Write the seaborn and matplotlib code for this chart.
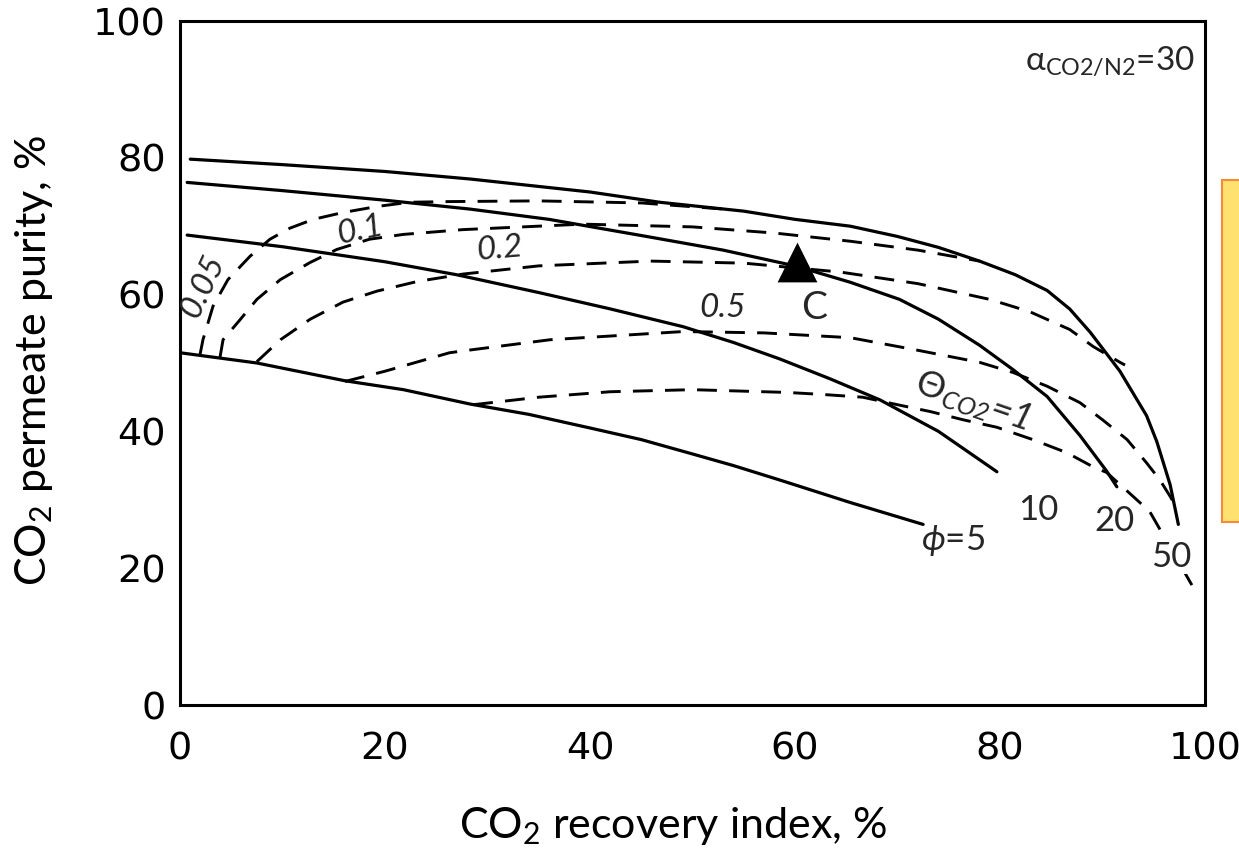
import matplotlib
matplotlib.use("Agg")
import matplotlib.pyplot as plt
import seaborn as sns
from matplotlib.patches import Rectangle

# ---------------- data ----------------
# solid curves: constant pressure ratio phi
phi5_x = [0, 7.5, 16.1, 21.8, 28.3, 34, 40, 45, 50, 54, 58.5, 65.4, 72.5]
phi5_y = [51.5, 50.0, 47.4, 46.1, 44.0, 42.5, 40.5, 38.8, 36.7, 35.0, 32.9, 29.6, 26.4]

phi10_x = [0.7, 10, 20, 27, 35, 42, 49.1, 54, 58.5, 63.4, 68.3, 74, 79.7]
phi10_y = [68.7, 67.0, 64.8, 62.9, 60.3, 57.9, 55.3, 53.0, 50.6, 47.7, 44.6, 40.0, 34.1]

phi20_x = [0.7, 10, 20, 28.3, 36, 45.9, 53, 60, 65.4, 70.2, 74, 78, 81.3, 84.6, 87.8, 90.4, 91.4]
phi20_y = [76.4, 75.2, 73.8, 72.5, 71.0, 68.4, 66.5, 64.2, 61.8, 59.3, 56.4, 52.6, 49.0, 45.1, 39.4, 34.2, 31.9]

phi50_x = [1, 10, 20, 28.3, 40, 46.8, 55, 60, 65.4, 70, 74, 78, 81.5, 84.6, 86.8, 88.8, 91.7, 94.3, 95.3, 96.6, 97.4]
phi50_y = [79.8, 79.0, 78.0, 76.9, 75.0, 73.5, 72.2, 71.0, 70.0, 68.5, 66.9, 64.9, 62.9, 60.6, 57.9, 54.5, 48.8, 42.3, 38.5, 32.2, 26.4]

# dashed curves: constant dimensionless area Theta
th005_x = [1.95, 2.24, 3.22, 4.68, 6.83, 8.78, 10.7, 13.0, 15.9, 19.3, 22.4, 26.3, 35, 45, 54]
th005_y = [51.2, 53.4, 58.3, 62.2, 65.6, 68.1, 69.7, 71.0, 72.0, 72.9, 73.5, 73.6, 73.7, 73.4, 72.4]

th01_x = [3.9, 4.2, 5.9, 7.5, 9.8, 12.7, 15.3, 18.5, 21.8, 27.6, 39.3, 50, 58, 65.4, 72, 78]
th01_y = [50.8, 53.4, 56.4, 59.3, 62.2, 64.7, 66.6, 68.1, 68.8, 69.5, 70.3, 69.9, 69.0, 67.8, 66.5, 64.9]

th02_x = [7.5, 9.8, 12.7, 15.9, 19.2, 23.1, 27.6, 35, 45.9, 55, 64.4, 72, 79.0, 82.9, 86.8, 89.1, 91.7, 92.2]
th02_y = [50.2, 53.4, 56.4, 58.9, 60.5, 61.9, 63.0, 64.2, 64.9, 64.6, 63.3, 61.6, 59.3, 57.5, 54.9, 52.4, 50.1, 49.7]

th05_x = [16.1, 20, 26.3, 28.3, 36.1, 49.1, 57, 65.4, 71.5, 78.0, 81.3, 84.6, 87.8, 90.0, 92.4, 94.3, 95.6, 96.6, 96.9]
th05_y = [47.3, 48.8, 51.5, 51.9, 53.4, 54.6, 54.4, 53.7, 52.0, 50.1, 48.6, 46.6, 44.2, 41.7, 38.8, 35.4, 32.9, 30.5, 29.7]

th1_x = [28.6, 35, 42, 50, 59.2, 62.7, 66.6, 70.0, 73.2, 76.4, 79.7, 83.2, 86.5, 89.1, 90.4, 94.6, 99.0]
th1_y = [43.9, 45.0, 45.8, 46.1, 45.7, 45.4, 45.0, 43.9, 42.9, 41.7, 40.6, 38.8, 36.9, 34.8, 34.0, 28.3, 16.8]

point_c_x = [60.2]
point_c_y = [64.7]

x_ticks = [0, 20, 40, 60, 80, 100]
y_ticks = [0, 20, 40, 60, 80, 100]

# ---------------- style ----------------
sns.set_theme(style="white")
plt.rcParams['font.family'] = ['Lato', 'DejaVu Sans']
plt.rcParams['mathtext.fontset'] = 'custom'
plt.rcParams['mathtext.rm'] = 'Lato'
plt.rcParams['mathtext.it'] = 'Lato:italic'
plt.rcParams['mathtext.bf'] = 'Lato:bold'

W, H = 1239, 849
fig = plt.figure(figsize=(W / 100, H / 100), dpi=100)
fig.patch.set_facecolor('white')
ax = fig.add_axes([180 / W, 1 - 705 / H, 1025 / W, 684 / H])
ax.set_facecolor('white')

solid_lw = 2.3
dash_lw = 2.1
dash_style = (0, (6.8, 4.2))

for xs, ys in [(phi5_x, phi5_y), (phi10_x, phi10_y), (phi20_x, phi20_y), (phi50_x, phi50_y)]:
    sns.lineplot(x=xs, y=ys, sort=False, estimator=None, color='black',
                 linewidth=solid_lw, ax=ax)

for xs, ys in [(th005_x, th005_y), (th01_x, th01_y), (th02_x, th02_y),
               (th05_x, th05_y), (th1_x, th1_y)]:
    sns.lineplot(x=xs, y=ys, sort=False, estimator=None, color='black',
                 linewidth=dash_lw, linestyle=dash_style, ax=ax)

sns.scatterplot(x=point_c_x, y=point_c_y, marker='^', s=820, color='black',
                edgecolor='black', linewidth=0, ax=ax, zorder=5)

# ---------------- axes ----------------
ax.set_xlim(0, 100)
ax.set_ylim(0, 100)
ax.set_xticks(x_ticks)
ax.set_yticks(y_ticks)
ax.set_xticklabels([str(t) for t in x_ticks], family='DejaVu Sans')
ax.set_yticklabels([str(t) for t in y_ticks], family='DejaVu Sans')
ax.tick_params(axis='both', direction='in', length=10, width=1.8, colors='black',
               labelsize=27.5)
ax.tick_params(axis='x', pad=19)
ax.tick_params(axis='y', pad=10)
for sp in ax.spines.values():
    sp.set_color('black')
    sp.set_linewidth(2.2)
ax.grid(False)

ax.set_xlabel('CO$_2$ recovery index, %', fontsize=31, color='black')
ax.xaxis.set_label_coords(0.481, -0.146)
ax.set_ylabel('CO$_2$ permeate purity, %', fontsize=31, color='black')
ax.yaxis.set_label_coords(-0.122, 0.504)

# ---------------- annotations ----------------
ax.text(2.3, 61.2, '0.05', fontsize=24, style='italic', rotation=65,
        ha='center', va='center')
ax.text(17.6, 69.4, '0.1', fontsize=24, style='italic', rotation=12,
        ha='center', va='center')
ax.text(31.2, 66.6, '0.2', fontsize=24, style='italic', rotation=5,
        ha='center', va='center')
ax.text(52.9, 58.0, '0.5', fontsize=24, style='italic', rotation=0,
        ha='center', va='center')
ax.text(61.9, 58.0, 'C', fontsize=28, ha='center', va='center')
ax.text(77.3, 44.5, r'$\Theta_{\mathregular{CO2}}$=1', fontsize=26, style='italic',
        rotation=-19, ha='center', va='center')
ax.text(75.4, 24.0, r'$\phi$=5', fontsize=25, ha='center', va='center')
ax.text(83.7, 28.5, '10', fontsize=25, ha='center', va='center')
ax.text(91.2, 26.9, '20', fontsize=25, ha='center', va='center')
ax.text(96.7, 21.7, '50', fontsize=25, ha='center', va='center', zorder=6,
        bbox=dict(facecolor='white', edgecolor='none', pad=1))
ax.text(99.0, 94.2, r'α$_{\mathregular{CO2/N2}}$=30', fontsize=24,
        ha='right', va='center')

# partially visible yellow box at the right edge
fig.patches.append(Rectangle((1222 / W, 1 - 522 / H), 40 / W, 342 / H,
                             transform=fig.transFigure, facecolor='#FFE170',
                             edgecolor='#F58A3A', linewidth=1.5, zorder=0))

fig.savefig('out.png', dpi=100, facecolor='white')
